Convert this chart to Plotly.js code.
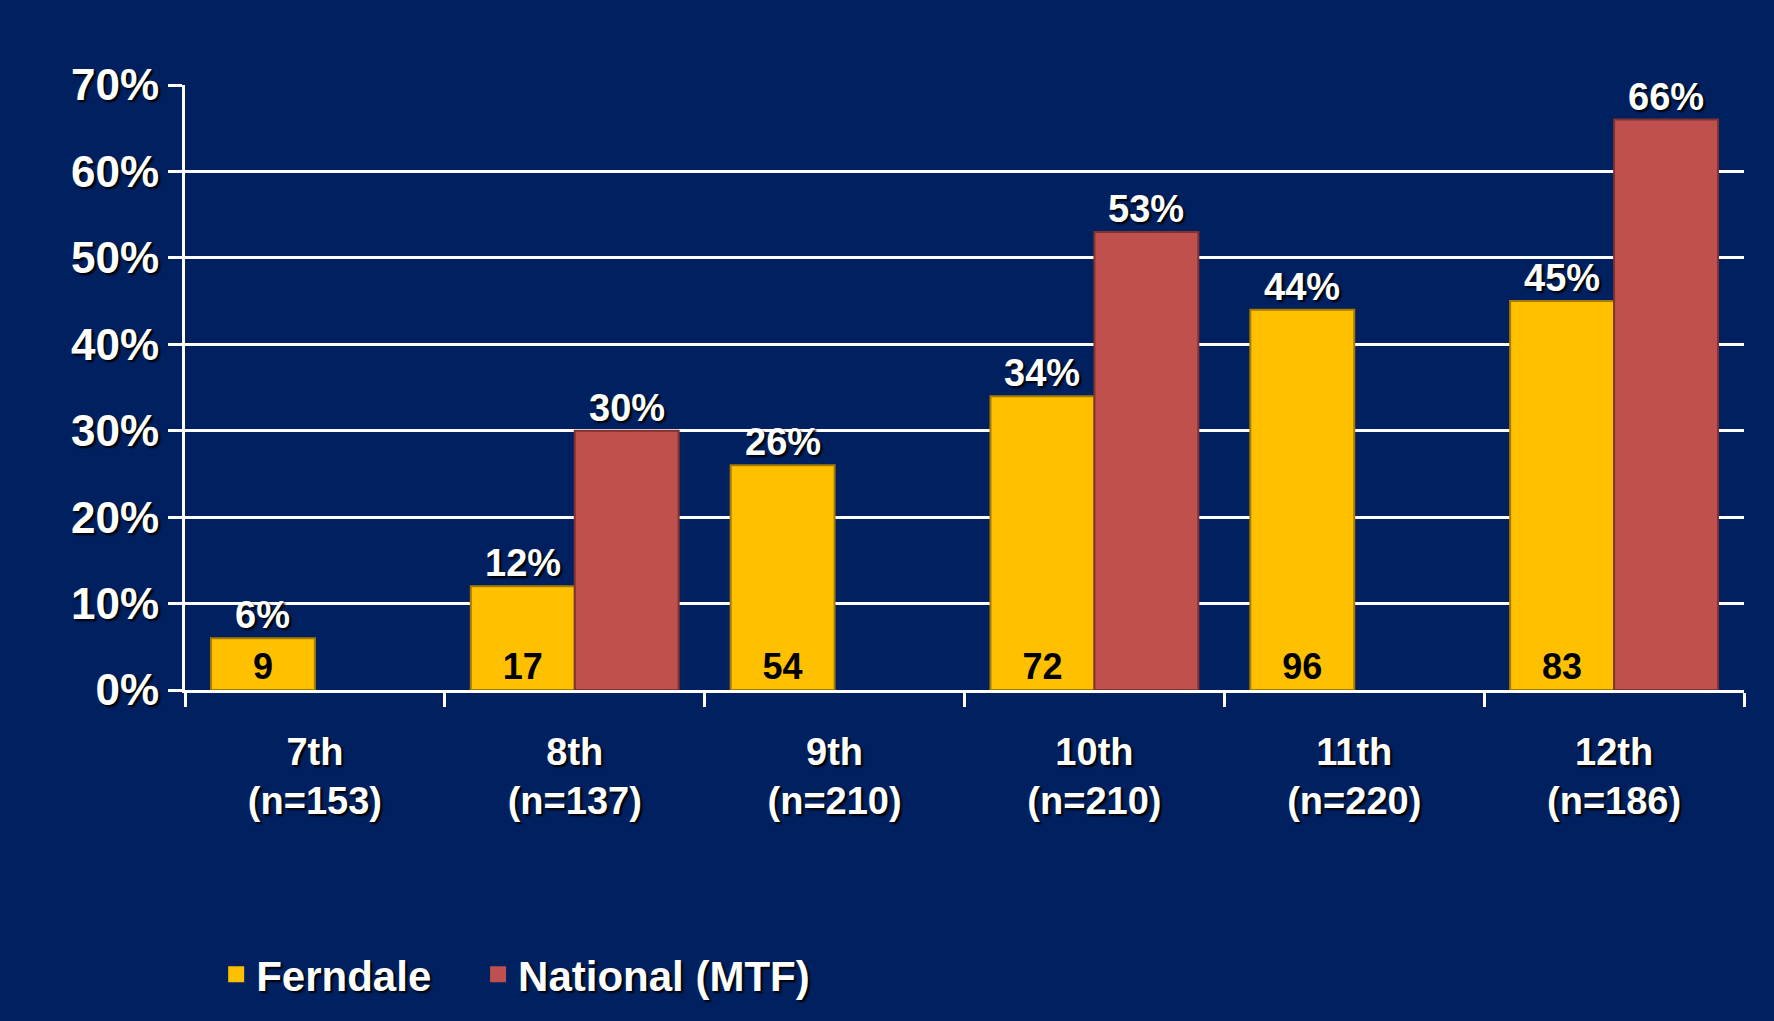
<!DOCTYPE html>
<html>
<head>
<meta charset="utf-8">
<script src="https://cdn.plot.ly/plotly-3.0.1.min.js"></script>
<style>
  html, body { margin: 0; padding: 0; background: #002060; }
  #chart { width: 1774px; height: 1021px; }
</style>
</head>
<body>
<div id="chart"></div>
<script>
// ---- Data ----
const grades = ["7th", "8th", "9th", "10th", "11th", "12th"];
const sampleSizes = [153, 137, 210, 210, 220, 186];
const ferndalePct = [6, 12, 26, 34, 44, 45];
const ferndaleCounts = [9, 17, 54, 72, 96, 83];
const nationalPct = [null, 30, null, 53, null, 66];
const yTicks = [0, 10, 20, 30, 40, 50, 60, 70];
const seriesNames = ["Ferndale", "National (MTF)"];

const categories = grades.map((g, i) => g + "<br>(n=" + sampleSizes[i] + ")");

// ---- Style ----
const FONT = "'Liberation Sans Narrow', 'Liberation Sans', Arial, sans-serif";
const BG = "#002060";
const YELLOW = "#FFC000";
const RED = "#C0504D";
const W = 1774, H = 1021;
const margin = { l: 185, r: 30, t: 85, b: 315 };
const bargap = 0.2;
const plotW = W - margin.l - margin.r;
const catW = plotW / categories.length;
const barW = catW * (1 - bargap) / 2;
const shadow = "2px 2px 2px #000000";

const traces = [
  {
    type: "bar",
    name: seriesNames[0],
    showlegend: false,
    x: categories,
    y: ferndalePct,
    marker: { color: YELLOW, line: { color: "#A67C00", width: 2 } },
    text: ferndaleCounts.map(String),
    textposition: "inside",
    insidetextanchor: "start",
    constraintext: "none",
    textfont: { family: FONT, size: 36, color: "#000000", weight: "bold" },
    hoverinfo: "skip"
  },
  {
    type: "bar",
    name: seriesNames[1],
    showlegend: false,
    x: categories,
    y: nationalPct,
    marker: { color: RED, line: { color: "#7F3230", width: 2 } },
    hoverinfo: "skip"
  },
  // legend-only entries with square swatches
  {
    type: "scatter", mode: "markers", name: seriesNames[0], legend: "legend",
    x: [null], y: [null],
    marker: { symbol: "square", size: 26, color: YELLOW }, hoverinfo: "skip"
  },
  {
    type: "scatter", mode: "markers", name: seriesNames[1], legend: "legend2",
    x: [null], y: [null],
    marker: { symbol: "square", size: 26, color: RED }, hoverinfo: "skip"
  }
];

const annotations = [];
const pctFont = { family: FONT, size: 38, color: "#FFFFFF", weight: "bold", shadow: shadow };
categories.forEach((c, i) => {
  if (ferndalePct[i] !== null) {
    annotations.push({
      x: c, y: ferndalePct[i], xref: "x", yref: "y",
      text: ferndalePct[i] + "%", showarrow: false,
      yanchor: "bottom", xshift: -barW / 2, yshift: 0,
      font: pctFont
    });
  }
  if (nationalPct[i] !== null) {
    annotations.push({
      x: c, y: nationalPct[i], xref: "x", yref: "y",
      text: nationalPct[i] + "%", showarrow: false,
      yanchor: "bottom", xshift: barW / 2, yshift: 0,
      font: pctFont
    });
  }
});

const legendBase = {
  orientation: "h",
  xanchor: "left",
  y: -0.47, yanchor: "middle",
  font: { family: FONT, size: 42, color: "#FFFFFF", weight: "bold", shadow: shadow },
  bgcolor: "rgba(0,0,0,0)",
  itemwidth: 30
};

const layout = {
  width: W, height: H,
  paper_bgcolor: BG,
  plot_bgcolor: BG,
  margin: margin,
  barmode: "group",
  bargap: bargap,
  bargroupgap: 0,
  showlegend: true,
  legend: Object.assign({}, legendBase, { x: 0.02 }),
  legend2: Object.assign({}, legendBase, { x: 0.188 }),
  xaxis: {
    type: "category",
    showgrid: false,
    showline: true, linecolor: "#FFFFFF", linewidth: 3,
    ticks: "outside", tickcolor: "#FFFFFF", ticklen: 14, tickwidth: 3,
    tickson: "boundaries",
    ticklabelstandoff: 26,
    tickfont: { family: FONT, size: 38, color: "#FFFFFF", weight: "bold", shadow: shadow },
    zeroline: false,
    fixedrange: true
  },
  yaxis: {
    range: [0, 70],
    tickvals: yTicks,
    ticktext: yTicks.map(v => v + "%"),
    showgrid: true, gridcolor: "#FFFFFF", gridwidth: 3,
    showline: true, linecolor: "#FFFFFF", linewidth: 3,
    ticks: "outside", tickcolor: "#FFFFFF", ticklen: 14, tickwidth: 3,
    tickfont: { family: FONT, size: 44, color: "#FFFFFF", weight: "bold", shadow: shadow },
    zeroline: false,
    fixedrange: true
  },
  annotations: annotations
};

Plotly.newPlot("chart", traces, layout, { displayModeBar: false, staticPlot: true });
</script>
</body>
</html>
